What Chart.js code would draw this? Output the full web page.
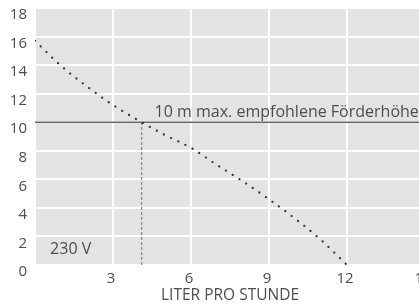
<!DOCTYPE html>
<html>
<head>
<meta charset="utf-8">
<script src="https://cdn.jsdelivr.net/npm/chart.js@4"></script>
<style>
    html, body { margin: 0; padding: 0; background: #fff; overflow: hidden; }
    #wrap { width: 440px; height: 305px; }
</style>
</head>
<body>
<div id="wrap"><canvas id="pumpChart" width="440" height="305"></canvas></div>
<script>
// ── data
const flowLph   = [0, 1, 2, 3, 4, 5, 6, 7, 8, 9, 10, 11, 12];
const headM     = [15.7, 13.95, 12.5, 11.2, 10.1, 9.1, 8.2, 7.0, 5.85, 4.6, 3.25, 1.75, 0];
const maxHead   = 10;      // recommended max. head (m)
const maxFlow   = 4.1;     // flow where curve crosses max head
const xTicks    = [0, 3, 6, 9, 12, 15];
const yTicks    = [0, 2, 4, 6, 8, 10, 12, 14, 16, 18];
const headLabel = '10 m max. empfohlene Förderhöhe';
const voltLabel = '230 V';
const xTitle    = 'LITER PRO STUNDE';

const TEXT = '#4d4d4d';
const FONT = "'Open Sans', sans-serif";

var curve = flowLph.map(function(x, i){ return { x: x, y: headM[i] }; });

var plotBg = {
    id: 'plotBg',
    beforeDraw: function(chart) {
        var a = chart.chartArea, ctx = chart.ctx;
        ctx.save();
        ctx.fillStyle = '#e3e3e3';
        ctx.fillRect(a.left, a.top, a.right - a.left, a.bottom - a.top);
        ctx.restore();
    }
};

var notes = {
    id: 'notes',
    afterDatasetsDraw: function(chart) {
        var ctx = chart.ctx, xs = chart.scales.x, ys = chart.scales.y;
        ctx.save();
        ctx.fillStyle = TEXT;
        ctx.font = '16px ' + FONT;
        ctx.textBaseline = 'alphabetic';
        ctx.textAlign = 'left';
        ctx.fillText(headLabel, xs.getPixelForValue(4.6), ys.getPixelForValue(maxHead) - 5);
        ctx.fillText(voltLabel, xs.getPixelForValue(0.58), ys.getPixelForValue(0.77));
        ctx.restore();
    }
};

new Chart(document.getElementById('pumpChart').getContext('2d'), {
    type: 'line',
    data: {
        datasets: [
            { data: curve, borderColor: '#333', borderWidth: 2.3, borderDash: [0, 8], borderCapStyle: 'round',
              cubicInterpolationMode: 'monotone', pointRadius: 0, fill: false, order: 1 },
            { data: [{ x: 0, y: maxHead }, { x: 15, y: maxHead }], borderColor: '#666', borderWidth: 1.5,
              pointRadius: 0, fill: false, order: 2 },
            { data: [{ x: maxFlow, y: 0 }, { x: maxFlow, y: maxHead }], borderColor: '#8a8a8a', borderWidth: 1.3,
              borderDash: [3, 2], pointRadius: 0, fill: false, order: 3 }
        ]
    },
    options: {
        responsive: false,
        animation: false,
        layout: { padding: { top: 8, right: 15, left: 0, bottom: 0 } },
        plugins: { legend: { display: false }, tooltip: { enabled: false } },
        scales: {
            x: {
                type: 'linear', min: 0, max: 15,
                afterBuildTicks: function(s){ s.ticks = xTicks.map(function(v){ return { value: v }; }); },
                afterFit: function(s){ s.height = 40; s.paddingLeft = 0; s.paddingRight = 0; },
                grid: { color: '#fff', lineWidth: 2, drawTicks: false },
                border: { display: false },
                ticks: { autoSkip: false, maxRotation: 0, padding: 5, labelOffset: -2, color: TEXT,
                         font: { family: FONT, size: 15 },
                         callback: function(v){ return v === 0 ? '' : v; } },
                title: { display: true, text: xTitle, color: TEXT, padding: 0, font: { family: FONT, size: 15.5 } }
            },
            y: {
                type: 'linear', min: 0, max: 18,
                afterBuildTicks: function(s){ s.ticks = yTicks.map(function(v){ return { value: v }; }); },
                afterFit: function(s){ s.width = 35; s.paddingTop = 0; s.paddingBottom = 0; },
                grid: { color: '#fff', lineWidth: 2, drawTicks: false },
                border: { display: false },
                ticks: { autoSkip: false, padding: 8, labelOffset: 7, color: TEXT,
                         font: { family: FONT, size: 15 } }
            }
        }
    },
    plugins: [plotBg, notes]
});
</script>
</body>
</html>
